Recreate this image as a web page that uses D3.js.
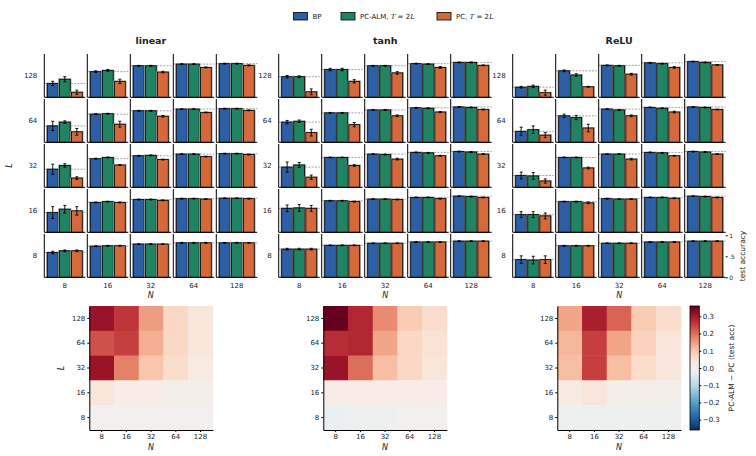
<!DOCTYPE html>
<html>
<head>
<meta charset="utf-8">
<script src="https://cdn.jsdelivr.net/npm/d3@7"></script>
<style>
  body { margin: 0; background: #fff; }
  text { font-family: "DejaVu Sans", sans-serif; fill: #222; }
</style>
</head>
<body>
<svg id="chart" width="756" height="456"></svg>
<script>
// rows are L = 128, 64, 32, 16, 8 ; columns are N = 8, 16, 32, 64, 128
const Ls = [128, 64, 32, 16, 8];
const Ns = [8, 16, 32, 64, 128];
const methods = ['BP', 'PC-ALM', 'PC'];
const activations = ['linear', 'tanh', 'ReLU'];
const colorTicks = [0.3, 0.2, 0.1, 0.0, -0.1, -0.2, -0.3];

// test accuracy (mean)
const linearBP = [
  [0.33, 0.61, 0.75, 0.79, 0.80],
  [0.39, 0.67, 0.75, 0.79, 0.80],
  [0.43, 0.68, 0.75, 0.79, 0.80],
  [0.47, 0.71, 0.78, 0.80, 0.81],
  [0.59, 0.74, 0.79, 0.82, 0.82]];
const linearALM = [
  [0.43, 0.64, 0.75, 0.79, 0.80],
  [0.48, 0.68, 0.75, 0.79, 0.80],
  [0.52, 0.71, 0.76, 0.79, 0.80],
  [0.55, 0.73, 0.78, 0.80, 0.81],
  [0.63, 0.75, 0.79, 0.82, 0.82]];
const linearPC = [
  [0.12, 0.38, 0.60, 0.71, 0.76],
  [0.25, 0.43, 0.62, 0.71, 0.76],
  [0.22, 0.53, 0.66, 0.73, 0.78],
  [0.51, 0.71, 0.76, 0.79, 0.80],
  [0.63, 0.75, 0.79, 0.82, 0.82]];

const tanhBP = [
  [0.49, 0.66, 0.75, 0.80, 0.83],
  [0.48, 0.70, 0.77, 0.82, 0.84],
  [0.48, 0.71, 0.79, 0.83, 0.85],
  [0.57, 0.75, 0.79, 0.83, 0.86],
  [0.67, 0.76, 0.81, 0.84, 0.86]];
const tanhALM = [
  [0.49, 0.66, 0.75, 0.79, 0.83],
  [0.50, 0.70, 0.77, 0.81, 0.83],
  [0.53, 0.71, 0.78, 0.82, 0.84],
  [0.58, 0.75, 0.79, 0.83, 0.85],
  [0.67, 0.76, 0.81, 0.84, 0.86]];
const tanhPC = [
  [0.13, 0.38, 0.58, 0.71, 0.76],
  [0.23, 0.42, 0.63, 0.72, 0.78],
  [0.24, 0.52, 0.67, 0.75, 0.79],
  [0.57, 0.73, 0.78, 0.80, 0.83],
  [0.67, 0.76, 0.81, 0.84, 0.86]];

const reluBP = [
  [0.24, 0.63, 0.76, 0.82, 0.85],
  [0.26, 0.63, 0.79, 0.83, 0.84],
  [0.28, 0.71, 0.79, 0.83, 0.85],
  [0.42, 0.73, 0.80, 0.83, 0.86],
  [0.42, 0.75, 0.81, 0.84, 0.86]];
const reluALM = [
  [0.26, 0.53, 0.75, 0.80, 0.83],
  [0.30, 0.59, 0.77, 0.81, 0.83],
  [0.27, 0.71, 0.79, 0.82, 0.84],
  [0.42, 0.73, 0.79, 0.83, 0.85],
  [0.41, 0.75, 0.81, 0.84, 0.86]];
const reluPC = [
  [0.11, 0.25, 0.55, 0.71, 0.77],
  [0.17, 0.34, 0.63, 0.72, 0.78],
  [0.15, 0.46, 0.67, 0.75, 0.79],
  [0.39, 0.70, 0.79, 0.81, 0.83],
  [0.42, 0.75, 0.81, 0.84, 0.86]];

// error bar half-lengths
const linearErrBP = [
  [0.05, 0.02, 0.01, 0.01, 0.01],
  [0.11, 0.01, 0.01, 0.01, 0.01],
  [0.12, 0.01, 0.01, 0.01, 0.01],
  [0.14, 0.01, 0.01, 0.01, 0.01],
  [0.03, 0.01, 0.01, 0.01, 0.01]];
const linearErrALM = [
  [0.06, 0.02, 0.01, 0.01, 0.01],
  [0.03, 0.01, 0.01, 0.01, 0.01],
  [0.04, 0.01, 0.01, 0.01, 0.01],
  [0.09, 0.01, 0.01, 0.01, 0.01],
  [0.02, 0.01, 0.01, 0.01, 0.01]];
const linearErrPC = [
  [0.05, 0.05, 0.02, 0.01, 0.01],
  [0.08, 0.07, 0.02, 0.01, 0.01],
  [0.03, 0.01, 0.01, 0.01, 0.01],
  [0.10, 0.01, 0.01, 0.01, 0.01],
  [0.02, 0.01, 0.01, 0.01, 0.01]];

const tanhErrBP = [
  [0.03, 0.03, 0.01, 0.01, 0.01],
  [0.04, 0.01, 0.01, 0.01, 0.01],
  [0.12, 0.01, 0.01, 0.01, 0.01],
  [0.08, 0.01, 0.01, 0.01, 0.01],
  [0.02, 0.01, 0.01, 0.01, 0.01]];
const tanhErrALM = [
  [0.02, 0.03, 0.01, 0.01, 0.01],
  [0.03, 0.01, 0.01, 0.01, 0.01],
  [0.06, 0.01, 0.01, 0.01, 0.01],
  [0.08, 0.01, 0.01, 0.01, 0.01],
  [0.02, 0.01, 0.01, 0.01, 0.01]];
const tanhErrPC = [
  [0.07, 0.04, 0.03, 0.02, 0.01],
  [0.08, 0.05, 0.02, 0.01, 0.01],
  [0.05, 0.02, 0.02, 0.01, 0.01],
  [0.07, 0.01, 0.01, 0.01, 0.01],
  [0.02, 0.01, 0.01, 0.01, 0.01]];

const reluErrBP = [
  [0.02, 0.02, 0.01, 0.01, 0.01],
  [0.10, 0.04, 0.01, 0.01, 0.01],
  [0.08, 0.01, 0.01, 0.01, 0.01],
  [0.07, 0.01, 0.01, 0.01, 0.01],
  [0.09, 0.01, 0.01, 0.01, 0.01]];
const reluErrALM = [
  [0.03, 0.03, 0.01, 0.01, 0.01],
  [0.09, 0.05, 0.01, 0.01, 0.01],
  [0.08, 0.01, 0.01, 0.01, 0.01],
  [0.07, 0.01, 0.01, 0.01, 0.01],
  [0.09, 0.01, 0.01, 0.01, 0.01]];
const reluErrPC = [
  [0.06, 0.01, 0.02, 0.02, 0.01],
  [0.06, 0.09, 0.02, 0.02, 0.01],
  [0.05, 0.02, 0.02, 0.01, 0.01],
  [0.07, 0.02, 0.01, 0.01, 0.01],
  [0.09, 0.01, 0.01, 0.01, 0.01]];

// PC-ALM - PC (test acc), heatmaps
const linearDiff = [
  [0.31, 0.26, 0.15, 0.07, 0.04],
  [0.23, 0.25, 0.13, 0.07, 0.04],
  [0.31, 0.18, 0.10, 0.06, 0.03],
  [0.04, 0.02, 0.02, 0.01, 0.01],
  [0.00, 0.00, 0.00, 0.00, 0.00]];
const tanhDiff = [
  [0.36, 0.28, 0.17, 0.09, 0.06],
  [0.27, 0.28, 0.14, 0.07, 0.05],
  [0.31, 0.20, 0.11, 0.07, 0.04],
  [0.02, 0.02, 0.02, 0.02, 0.02],
  [-0.02, -0.01, -0.01, 0.00, 0.00]];
const reluDiff = [
  [0.14, 0.29, 0.21, 0.09, 0.06],
  [0.12, 0.25, 0.14, 0.08, 0.04],
  [0.11, 0.25, 0.11, 0.06, 0.04],
  [0.03, 0.04, 0.01, 0.01, 0.01],
  [-0.01, -0.01, -0.01, -0.01, -0.01]];

const colors = { BP: '#2c5fa6', 'PC-ALM': '#208463', PC: '#d4693a' };

const panels = [
  { left: 44.3, hmLeft: 89.3, means: [linearBP, linearALM, linearPC], errs: [linearErrBP, linearErrALM, linearErrPC], diff: linearDiff },
  { left: 278.7, hmLeft: 323.3, means: [tanhBP, tanhALM, tanhPC], errs: [tanhErrBP, tanhErrALM, tanhErrPC], diff: tanhDiff },
  { left: 512.7, hmLeft: 557.3, means: [reluBP, reluALM, reluPC], errs: [reluErrBP, reluErrALM, reluErrPC], diff: reluDiff },
];

const svg = d3.select('#chart');

const subW = 41;
const colStep = 43;
const rowTop = 54;
const rowH = 43.3;
const rowStep = 45;

const yRow = d3.scaleBand().domain(Ls)
  .range([rowTop, rowTop + rowStep * 5 - (rowStep - rowH)])
  .paddingInner((rowStep - rowH) / rowStep);
const yAcc = d3.scaleLinear().domain([0, 1.03]).range([rowH, 0]);
const xBar = d3.scaleBand().domain(methods).range([0, subW]).paddingInner(0.1).paddingOuter(0.25);

const vmax = 0.36;
const heat = (v) => d3.interpolateRdBu(1 - (v + vmax) / (2 * vmax));

// legend
const legendItems = [
  { m: 'BP', x: 293.5, parts: [['BP', false]] },
  { m: 'PC-ALM', x: 341, parts: [['PC-ALM, ', false], ['T', true], [' = 2', false], ['L', true]] },
  { m: 'PC', x: 437, parts: [['PC, ', false], ['T', true], [' = 2', false], ['L', true]] },
];
legendItems.forEach((it) => {
  svg.append('rect')
    .attr('x', it.x).attr('y', 12.5)
    .attr('width', 14).attr('height', 7.5)
    .attr('fill', colors[it.m])
    .attr('stroke', '#000')
    .attr('stroke-width', 0.8);
  const t = svg.append('text')
    .attr('x', it.x + 19).attr('y', 16.3)
    .attr('dy', '0.35em')
    .attr('font-size', 7);
  it.parts.forEach(([s, it2]) => {
    const sp = t.append('tspan').text(s);
    if (it2) sp.attr('font-style', 'italic').attr('font-family', 'DejaVu Serif');
  });
});

panels.forEach((p, pi) => {
  const g = svg.append('g');
  const xCol = d3.scaleBand().domain(Ns)
    .range([p.left, p.left + colStep * 5 - (colStep - subW)])
    .paddingInner((colStep - subW) / colStep);

  // title
  g.append('text')
    .attr('x', p.left + (colStep * 5 - 2) / 2)
    .attr('y', 44)
    .attr('text-anchor', 'middle')
    .attr('font-size', 9.5)
    .attr('font-weight', 'bold')
    .text(activations[pi]);

  // row labels (L)
  Ls.forEach((L) => {
    g.append('text')
      .attr('x', p.left - 7)
      .attr('y', yRow(L) + rowH / 2)
      .attr('dy', '0.35em')
      .attr('text-anchor', 'end')
      .attr('font-size', 7)
      .text(L);
  });

  Ls.forEach((L, r) => {
    Ns.forEach((N, c) => {
      const cell = g.append('g')
        .attr('transform', `translate(${xCol(N)},${yRow(L)})`);
      const bpVal = p.means[0][r][c];

      // dashed reference line at BP accuracy
      cell.append('line')
        .attr('x1', 0).attr('x2', subW)
        .attr('y1', yAcc(bpVal)).attr('y2', yAcc(bpVal))
        .attr('stroke', '#888')
        .attr('stroke-width', 0.8)
        .attr('stroke-dasharray', '2,1.3');

      methods.forEach((m, k) => {
        const v = p.means[k][r][c];
        const e = p.errs[k][r][c];
        const bx = xBar(m);
        const bw = xBar.bandwidth();
        // grey halo behind each bar
        cell.append('rect')
          .attr('x', bx - 1.2).attr('y', yAcc(v) - 0.8)
          .attr('width', bw + 2.4).attr('height', rowH - yAcc(v) + 0.8)
          .attr('fill', '#a0a0a0');
        cell.append('rect')
          .attr('x', bx).attr('y', yAcc(v))
          .attr('width', bw).attr('height', rowH - yAcc(v))
          .attr('fill', colors[m])
          .attr('stroke', '#000')
          .attr('stroke-width', 0.8);
        // error bar
        const cx = bx + bw / 2;
        cell.append('line')
          .attr('x1', cx).attr('x2', cx)
          .attr('y1', yAcc(v + e)).attr('y2', yAcc(Math.max(0, v - e)))
          .attr('stroke', '#000').attr('stroke-width', 0.9);
        [v + e, Math.max(0, v - e)].forEach((yy) => {
          cell.append('line')
            .attr('x1', cx - 1.5).attr('x2', cx + 1.5)
            .attr('y1', yAcc(yy)).attr('y2', yAcc(yy))
            .attr('stroke', '#000').attr('stroke-width', 0.9);
        });
      });

      // spines
      cell.append('line')
        .attr('x1', 0).attr('x2', 0).attr('y1', 0).attr('y2', rowH)
        .attr('stroke', '#000').attr('stroke-width', 1);
      cell.append('line')
        .attr('x1', 0).attr('x2', subW).attr('y1', rowH).attr('y2', rowH)
        .attr('stroke', '#000').attr('stroke-width', 1);

      // right accuracy axis on the very last subplot
      if (pi === 2 && r === Ls.length - 1 && c === Ns.length - 1) {
        const ax = cell.append('g')
          .attr('transform', `translate(${subW},0)`)
          .call(d3.axisRight(yAcc).tickValues([0, 0.5, 1]).tickSize(2).tickPadding(1.5)
            .tickFormat((d) => (d === 0.5 ? '.5' : d)));
        ax.select('.domain').remove();
        ax.selectAll('text').attr('font-size', 6).attr('font-family', 'DejaVu Sans').attr('fill', '#222');
      }
    });
  });

  // column labels (N)
  Ns.forEach((N) => {
    g.append('text')
      .attr('x', xCol(N) + subW / 2)
      .attr('y', rowTop + rowStep * 4 + rowH + 8)
      .attr('dy', '0.35em')
      .attr('text-anchor', 'middle')
      .attr('font-size', 7)
      .text(N);
  });
  g.append('text')
    .attr('x', p.left + (colStep * 5 - 2) / 2)
    .attr('y', 298)
    .attr('text-anchor', 'middle')
    .attr('font-size', 8)
    .attr('font-style', 'italic')
    .attr('font-family', 'DejaVu Serif')
    .text('N');

  // heatmap
  const hx = d3.scaleBand().domain(Ns).range([p.hmLeft, p.hmLeft + 123.6]);
  const hy = d3.scaleBand().domain(Ls).range([306, 430]);
  Ls.forEach((L, r) => {
    Ns.forEach((N, c) => {
      g.append('rect')
        .attr('x', hx(N)).attr('y', hy(L))
        .attr('width', hx.bandwidth() + 0.3).attr('height', hy.bandwidth() + 0.3)
        .attr('fill', heat(p.diff[r][c]));
    });
  });
  const axL = g.append('g')
    .attr('transform', `translate(${p.hmLeft},0)`)
    .call(d3.axisLeft(hy).tickSize(2).tickSizeOuter(0).tickPadding(2));
  const axB = g.append('g')
    .attr('transform', 'translate(0,430)')
    .call(d3.axisBottom(hx).tickSize(2).tickSizeOuter(0).tickPadding(2));
  [axL, axB].forEach((ax) => {
    ax.select('.domain').attr('stroke', '#000').attr('stroke-width', 1);
    ax.selectAll('text').attr('font-size', 7).attr('font-family', 'DejaVu Sans').attr('fill', '#222');
  });
  g.append('text')
    .attr('x', p.hmLeft + 61.8)
    .attr('y', 450)
    .attr('text-anchor', 'middle')
    .attr('font-size', 8)
    .attr('font-style', 'italic')
    .attr('font-family', 'DejaVu Serif')
    .text('N');
});

// L labels
[165.5, 368].forEach((yy, i) => {
  svg.append('text')
    .attr('transform', `translate(${i === 0 ? 12 : 64},${yy}) rotate(-90)`)
    .attr('text-anchor', 'middle')
    .attr('font-size', 8)
    .attr('font-style', 'italic')
    .attr('font-family', 'DejaVu Serif')
    .text('L');
});

// test accuracy label
svg.append('text')
  .attr('transform', 'translate(745,256) rotate(-90)')
  .attr('text-anchor', 'middle')
  .attr('font-size', 7.5)
  .text('test accuracy');

// colorbar
const cbX = 690;
const cbW = 9.3;
const cbScale = d3.scaleLinear().domain([-vmax, vmax]).range([430, 306]);
const defs = svg.append('defs');
const grad = defs.append('linearGradient')
  .attr('id', 'cbgrad')
  .attr('x1', 0).attr('y1', 1).attr('x2', 0).attr('y2', 0);
d3.range(0, 1.0001, 0.05).forEach((t) => {
  grad.append('stop')
    .attr('offset', t)
    .attr('stop-color', heat(-vmax + 2 * vmax * t));
});
svg.append('rect')
  .attr('x', cbX).attr('y', 306)
  .attr('width', cbW).attr('height', 124)
  .attr('fill', 'url(#cbgrad)')
  .attr('stroke', '#000')
  .attr('stroke-width', 0.8);
const cbAx = svg.append('g')
  .attr('transform', `translate(${cbX + cbW},0)`)
  .call(d3.axisRight(cbScale).tickValues(colorTicks).tickSize(2).tickPadding(1.5)
    .tickFormat(d3.format('.1f')));
cbAx.select('.domain').remove();
cbAx.selectAll('text').attr('font-size', 7).attr('font-family', 'DejaVu Sans').attr('fill', '#222');
svg.append('text')
  .attr('transform', 'translate(734,368) rotate(-90)')
  .attr('text-anchor', 'middle')
  .attr('font-size', 7.5)
  .text('PC-ALM \u2212 PC  (test acc)');
</script>
</body>
</html>
